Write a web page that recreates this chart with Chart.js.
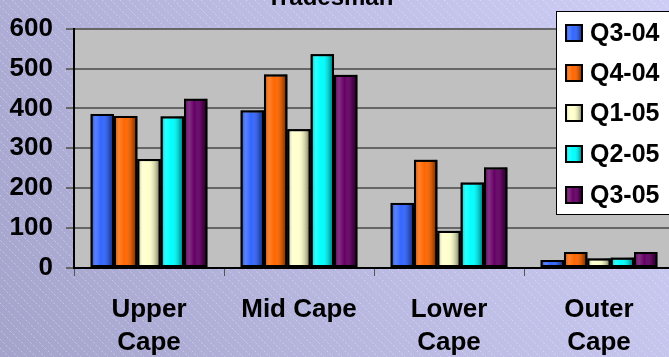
<!DOCTYPE html>
<html>
<head>
<meta charset="utf-8">
<script src="https://cdn.jsdelivr.net/npm/chart.js@4/dist/chart.umd.min.js"></script>
<style>
  html, body { margin: 0; padding: 0; overflow: hidden; background: #bcbce6; }
  #wrap { position: relative; width: 680px; height: 357px; }
</style>
</head>
<body>
<div id="wrap"><canvas id="c"></canvas></div>
<script>
// Regions of the Cape and quarterly counts
const regions = [['Upper', 'Cape'], ['Mid Cape'], ['Lower', 'Cape'], ['Outer', 'Cape']];
const quarters = ['Q3-04', 'Q4-04', 'Q1-05', 'Q2-05', 'Q3-05'];
const q3_04 = [386, 395, 163, 20];
const q4_04 = [381, 485, 271, 40];
const q1_05 = [273, 348, 93, 24];
const q2_05 = [380, 536, 214, 26];
const q3_05 = [424, 484, 252, 40];
const yTicks = [0, 100, 200, 300, 400, 500, 600];
const chartTitle = 'Tradesman';

const seriesValues = [q3_04, q4_04, q1_05, q2_05, q3_05];
const seriesColors = ['#3366ff', '#ff6600', '#ffffcc', '#00ffff', '#660066'];

const FONT = '"Liberation Sans", Arial, sans-serif';

// Cylinder-like shading across a bar or swatch
function shade(ctx, left, width) {
  const g = ctx.createLinearGradient(left, 0, left + width, 0);
  g.addColorStop(0, 'rgba(0,0,0,0.30)');
  g.addColorStop(0.22, 'rgba(255,255,255,0.18)');
  g.addColorStop(0.45, 'rgba(255,255,255,0.0)');
  g.addColorStop(0.8, 'rgba(0,0,0,0.25)');
  g.addColorStop(1, 'rgba(0,0,0,0.6)');
  return g;
}

const backdrop = {
  id: 'backdrop',
  beforeDraw(chart) {
    const { ctx, width, height, chartArea: a } = chart;
    ctx.save();
    const g = ctx.createLinearGradient(0, height, width, 0);
    g.addColorStop(0, '#a3a3cc');
    g.addColorStop(0.55, '#bdbde6');
    g.addColorStop(1, '#cdcdf6');
    ctx.fillStyle = g;
    ctx.fillRect(0, 0, width, height);
    // fine diagonal dashed hatching
    ctx.strokeStyle = 'rgba(255,255,255,0.35)';
    ctx.lineWidth = 1;
    ctx.setLineDash([2, 2]);
    ctx.beginPath();
    for (let s = -height; s < width + height; s += 9) {
      ctx.moveTo(s, 0);
      ctx.lineTo(s + height, height);
    }
    ctx.stroke();
    ctx.setLineDash([]);
    // plot area
    ctx.fillStyle = '#c0c0c0';
    ctx.fillRect(a.left, a.top, a.right - a.left, a.bottom - a.top);
    ctx.restore();
  }
};

const barShading = {
  id: 'barShading',
  afterDatasetsDraw(chart) {
    const ctx = chart.ctx;
    ctx.save();
    chart.data.datasets.forEach((ds, i) => {
      chart.getDatasetMeta(i).data.forEach(el => {
        const p = el.getProps(['x', 'y', 'base', 'width'], true);
        const left = p.x - p.width / 2;
        const h = p.base - p.y;
        ctx.fillStyle = shade(ctx, left, p.width);
        ctx.fillRect(left, p.y, p.width, h);
        ctx.strokeStyle = '#000';
        ctx.lineWidth = 2;
        ctx.strokeRect(left + 1, p.y + 1, p.width - 2, h - 2);
      });
    });
    ctx.restore();
  }
};

const overlay = {
  id: 'overlay',
  afterDraw(chart) {
    const ctx = chart.ctx;
    ctx.save();
    // title, mostly above the top edge
    ctx.fillStyle = '#000';
    ctx.font = 'bold 24px ' + FONT;
    ctx.textAlign = 'center';
    ctx.textBaseline = 'alphabetic';
    ctx.fillText(chartTitle, 330, 5);
    // legend box
    ctx.fillStyle = '#ffffff';
    ctx.fillRect(556, 11, 130, 203);
    ctx.strokeStyle = '#000';
    ctx.lineWidth = 1;
    ctx.strokeRect(556.5, 11.5, 130, 203);
    ctx.font = 'bold 25px ' + FONT;
    ctx.textAlign = 'left';
    ctx.textBaseline = 'middle';
    const rows = [33, 73, 113, 154, 195];
    quarters.forEach((q, i) => {
      const cy = rows[i];
      ctx.fillStyle = seriesColors[i];
      ctx.fillRect(565, cy - 9, 18, 18);
      ctx.fillStyle = shade(ctx, 565, 18);
      ctx.fillRect(565, cy - 9, 18, 18);
      ctx.strokeStyle = '#000';
      ctx.lineWidth = 2;
      ctx.strokeRect(566, cy - 8, 16, 16);
      ctx.fillStyle = '#000';
      ctx.fillText(q, 590, cy + 1);
    });
    ctx.restore();
  }
};

new Chart(document.getElementById('c'), {
  type: 'bar',
  data: {
    labels: regions,
    datasets: quarters.map((q, i) => ({
      label: q,
      data: seriesValues[i],
      backgroundColor: seriesColors[i],
      borderColor: '#000',
      borderWidth: 2,
      borderSkipped: false,
      categoryPercentage: 0.778,
      barPercentage: 1.0
    }))
  },
  options: {
    responsive: true,
    maintainAspectRatio: false,
    animation: false,
    layout: { padding: { top: 17, right: 6, left: 0, bottom: 0 } },
    plugins: {
      legend: { display: false },
      title: { display: false },
      tooltip: { enabled: false }
    },
    scales: {
      x: {
        offset: true,
        grid: {
          offset: true,
          drawOnChartArea: false,
          drawTicks: true,
          tickLength: 8,
          color: '#555'
        },
        border: { display: true, color: '#000', width: 2 },
        ticks: {
          color: '#000',
          font: { family: FONT, size: 26, weight: 'bold', lineHeight: 1.27 },
          padding: 17,
          maxRotation: 0,
          autoSkip: false
        },
        afterFit(scale) { scale.height = 89; }
      },
      y: {
        min: 0,
        max: 600,
        afterBuildTicks(scale) { scale.ticks = yTicks.map(v => ({ value: v })); },
        grid: {
          color: '#666666',
          lineWidth: 2,
          tickLength: 8,
          drawTicks: true
        },
        border: { display: true, color: '#000', width: 2 },
        ticks: {
          color: '#000',
          font: { family: FONT, size: 26, weight: 'bold' },
          padding: 13
        },
        afterFit(scale) { scale.width = 74; }
      }
    }
  },
  plugins: [backdrop, barShading, overlay]
});
</script>
</body>
</html>
